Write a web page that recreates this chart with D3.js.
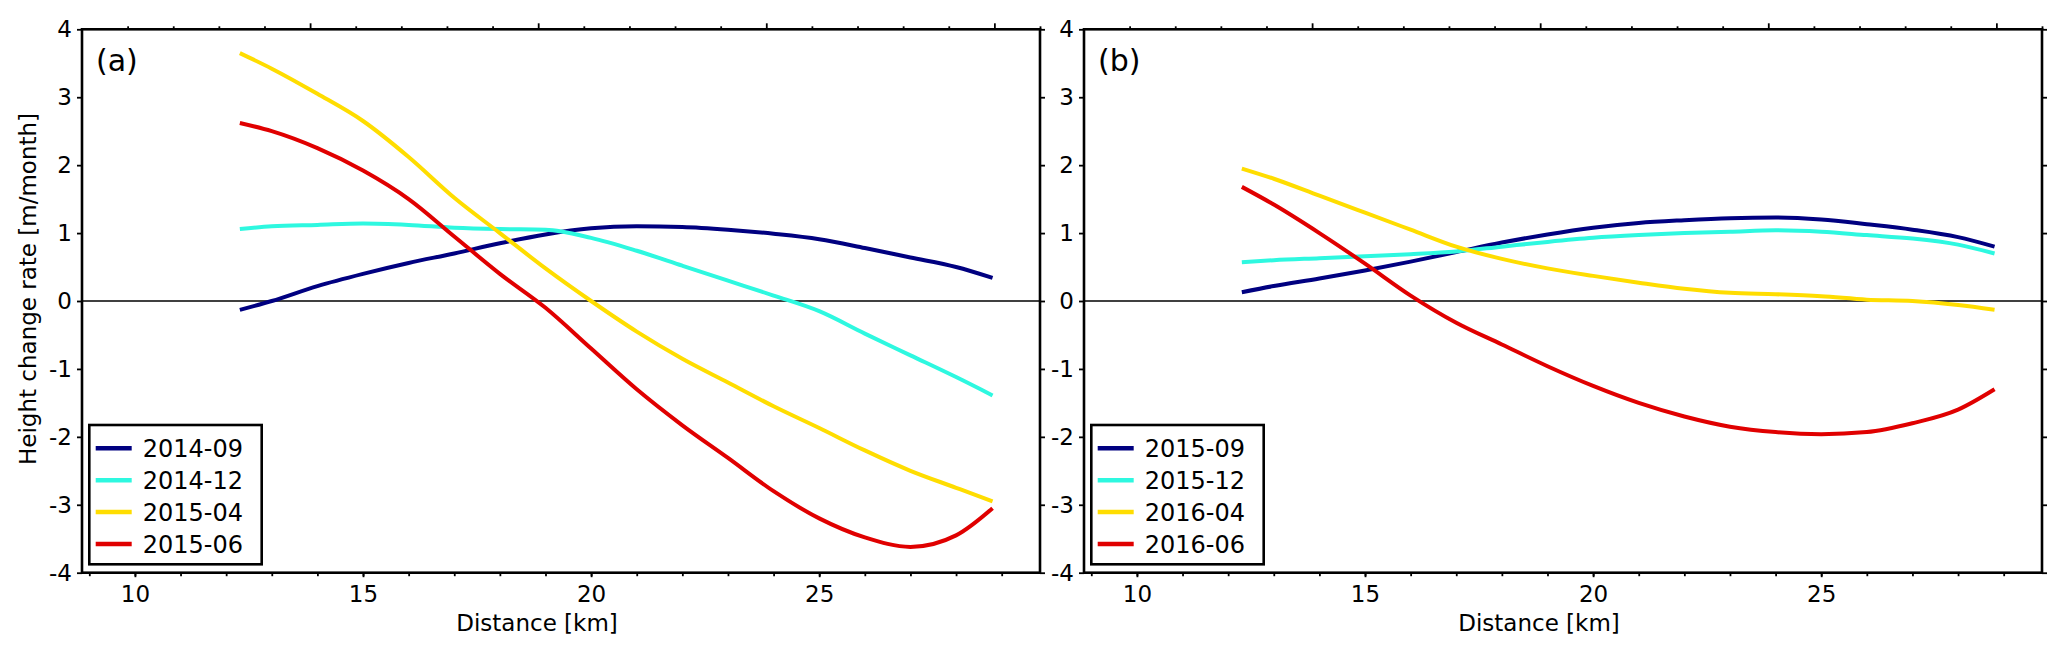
<!DOCTYPE html>
<html>
<head>
<meta charset="utf-8">
<script src="https://cdn.jsdelivr.net/npm/d3@7"></script>
<style>
  body { margin: 0; background: #fff; }
  text { font-family: "DejaVu Sans", sans-serif; fill: #000; }
</style>
</head>
<body>
<div id="chart"></div>
<script>
// Distance along profile (km), shared by all series
const distanceKm = [12.3, 13, 14, 15, 16, 17, 18, 19, 20, 21, 22, 23, 24, 25, 26, 27, 28, 28.8];

// Panel (a) height change rates [m/month]
const rate201409 = [-0.13, 0.0, 0.22, 0.40, 0.56, 0.70, 0.85, 0.98, 1.07, 1.10, 1.09, 1.05, 0.99, 0.91, 0.78, 0.64, 0.50, 0.34];
const rate201412 = [1.06, 1.10, 1.12, 1.14, 1.12, 1.08, 1.06, 1.05, 0.93, 0.74, 0.52, 0.30, 0.08, -0.15, -0.48, -0.80, -1.12, -1.39];
const rate201504 = [3.65, 3.42, 3.05, 2.65, 2.12, 1.52, 1.00, 0.48, 0.0, -0.45, -0.85, -1.20, -1.55, -1.87, -2.20, -2.50, -2.75, -2.95];
const rate201506 = [2.62, 2.50, 2.25, 1.92, 1.50, 0.95, 0.40, -0.10, -0.70, -1.30, -1.83, -2.31, -2.80, -3.20, -3.48, -3.62, -3.45, -3.05];

// Panel (b) height change rates [m/month]
const rate201509 = [0.13, 0.22, 0.33, 0.45, 0.58, 0.72, 0.86, 0.98, 1.08, 1.15, 1.19, 1.22, 1.23, 1.20, 1.13, 1.05, 0.94, 0.80];
const rate201512 = [0.57, 0.60, 0.63, 0.66, 0.69, 0.73, 0.80, 0.87, 0.93, 0.97, 1.00, 1.02, 1.04, 1.02, 0.97, 0.92, 0.83, 0.70];
const rate201604 = [1.95, 1.80, 1.55, 1.30, 1.05, 0.80, 0.62, 0.48, 0.37, 0.27, 0.18, 0.12, 0.10, 0.07, 0.02, 0.0, -0.06, -0.13];
const rate201606 = [1.68, 1.42, 1.00, 0.55, 0.08, -0.32, -0.64, -0.96, -1.25, -1.50, -1.70, -1.85, -1.93, -1.96, -1.93, -1.80, -1.60, -1.30];

const seriesColors = ["#000080", "#2ef8e0", "#ffdd00", "#e00000"];
const yTickValues = [-4, -3, -2, -1, 0, 1, 2, 3, 4];
const xMajorTicks = [10, 15, 20, 25];
const xMinorTicks = d3.range(9, 30);

const panels = [
  { label: "(a)", left: 82,   names: ["2014-09", "2014-12", "2015-04", "2015-06"], values: [rate201409, rate201412, rate201504, rate201506] },
  { label: "(b)", left: 1084, names: ["2015-09", "2015-12", "2016-04", "2016-06"], values: [rate201509, rate201512, rate201604, rate201606] }
];

// Layout
const width = 2067;
const height = 652;
const plotW = 958;
const plotTop = 29.3;
const plotBottom = 572.7;

const svg = d3.select("#chart")
  .append("svg")
    .attr("width", width)
    .attr("height", height);

const y = d3.scaleLinear().domain([-4, 4]).range([plotBottom, plotTop]);

// top axis ticks sit on a shifted grid (majors at 13.84 + 5k)
const topTicks = d3.range(-4, 17).map(k => ({ v: 13.84 + k, major: k % 5 === 0 }));

// y label (shared, left of panel a)
svg.append("text")
  .attr("transform", "translate(36,289) rotate(-90)")
  .attr("text-anchor", "middle")
  .style("font-size", "23px")
  .text("Height change rate [m/month]");

panels.forEach(p => {
  const x = d3.scaleLinear().domain([8.84, 29.84]).range([p.left, p.left + plotW]);
  const g = svg.append("g");

  // zero line
  g.append("line")
    .attr("x1", p.left).attr("x2", p.left + plotW)
    .attr("y1", y(0)).attr("y2", y(0))
    .attr("stroke", "#000")
    .attr("stroke-width", 1.6);

  // series
  const line = d3.line()
    .x((d, i) => x(distanceKm[i]))
    .y(d => y(d))
    .curve(d3.curveMonotoneX);

  p.values.forEach((vals, i) => {
    g.append("path")
      .datum(vals)
      .attr("d", line)
      .attr("fill", "none")
      .attr("stroke", seriesColors[i])
      .attr("stroke-width", 4)
      .attr("stroke-linejoin", "round");
  });

  // bottom axis
  g.append("g")
    .attr("transform", `translate(0,${plotBottom})`)
    .call(d3.axisBottom(x).tickValues(xMinorTicks).tickSize(3.5).tickFormat(""));
  const bottomMajor = g.append("g")
    .attr("transform", `translate(0,${plotBottom})`)
    .call(d3.axisBottom(x).tickValues(xMajorTicks).tickSize(4.5));
  bottomMajor.selectAll("text")
    .attr("dy", null)
    .attr("y", 29)
    .style("font-size", "23px");

  // top axis
  g.append("g")
    .attr("transform", `translate(0,${plotTop})`)
    .call(d3.axisTop(x).tickValues(topTicks.filter(t => !t.major).map(t => t.v)).tickSize(3).tickFormat(""));
  g.append("g")
    .attr("transform", `translate(0,${plotTop})`)
    .call(d3.axisTop(x).tickValues(topTicks.filter(t => t.major).map(t => t.v)).tickSize(6).tickFormat(""));

  // left axis (plain hyphen minus like the original)
  const leftAx = g.append("g")
    .attr("transform", `translate(${p.left},0)`)
    .call(d3.axisLeft(y).tickValues(yTickValues).tickSize(5).tickPadding(5).tickFormat(d => String(d)));
  leftAx.selectAll("text").style("font-size", "23px");

  // right axis
  g.append("g")
    .attr("transform", `translate(${p.left + plotW},0)`)
    .call(d3.axisRight(y).tickValues(yTickValues).tickSize(5).tickFormat(""));

  g.selectAll(".domain").remove();
  g.selectAll(".tick line").attr("stroke", "#000").attr("stroke-width", 1.8);

  // frame
  g.append("rect")
    .attr("x", p.left).attr("y", plotTop)
    .attr("width", plotW).attr("height", plotBottom - plotTop)
    .attr("fill", "none")
    .attr("stroke", "#000")
    .attr("stroke-width", 2.6);

  // panel label
  g.append("text")
    .attr("x", p.left + 14)
    .attr("y", 71)
    .style("font-size", "30px")
    .text(p.label);

  // x label
  g.append("text")
    .attr("x", p.left + 455)
    .attr("y", 630.7)
    .attr("text-anchor", "middle")
    .style("font-size", "23px")
    .text("Distance [km]");

  // legend
  const legend = g.append("g").attr("transform", `translate(${p.left + 7.3},425)`);
  legend.append("rect")
    .attr("width", 172.4)
    .attr("height", 139.3)
    .attr("fill", "#fff")
    .attr("stroke", "#000")
    .attr("stroke-width", 2.6);

  p.names.forEach((name, i) => {
    const row = legend.append("g").attr("transform", `translate(0,${23.3 + i * 31.9})`);
    row.append("line")
      .attr("x1", 6.4).attr("x2", 42.4)
      .attr("stroke", seriesColors[i])
      .attr("stroke-width", 4.5);
    row.append("text")
      .attr("x", 53.4)
      .attr("dy", "0.36em")
      .style("font-size", "24px")
      .text(name);
  });
});
</script>
</body>
</html>
